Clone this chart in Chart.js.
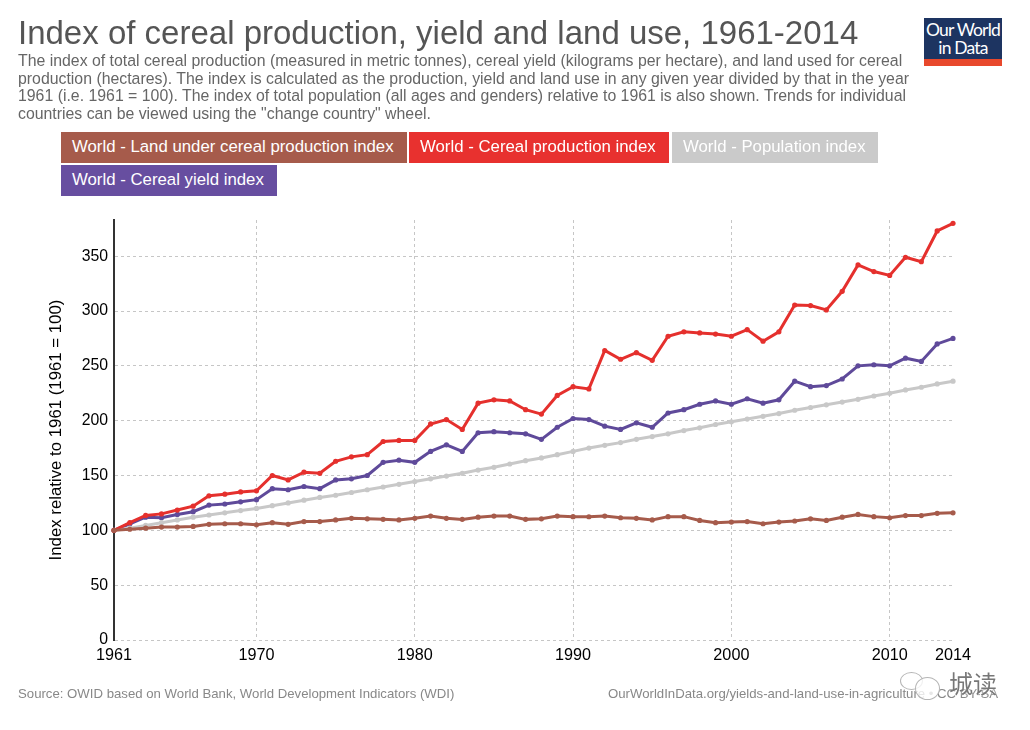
<!DOCTYPE html>
<html>
<head>
<meta charset="utf-8">
<title>Index of cereal production, yield and land use, 1961-2014</title>
<script src="https://cdn.jsdelivr.net/npm/chart.js@4"></script>
<style>
html, body { margin: 0; padding: 0; background: #fff; }
body { width: 1030px; height: 730px; position: relative; overflow: hidden; font-family: "Liberation Sans", Arial, sans-serif; }
#chartWrap { position: absolute; left: 0; top: 0; width: 1030px; height: 730px; }
.title { position: absolute; left: 18px; top: 14px; font-size: 33px; color: #555; white-space: nowrap; }
.sub { position: absolute; left: 18px; top: 52px; font-size: 15.85px; line-height: 17.7px; color: #666; white-space: nowrap; }
.key { position: absolute; height: 31px; line-height: 29px; color: #fff; font-size: 16.8px; padding-left: 11px; box-sizing: border-box; white-space: nowrap; }
.logo { position: absolute; left: 924px; top: 18px; width: 78px; height: 48px; background: #1d3461; border-bottom: 7px solid #e8482c; box-sizing: border-box; color: #fff; text-align: center; font-family: Lato, sans-serif; font-size: 17.5px; line-height: 18px; padding-top: 3px; letter-spacing: -0.8px; }
.foot { position: absolute; top: 686px; font-size: 13.2px; color: #888; white-space: nowrap; }
.mark { position: absolute; left: 949px; top: 665px; font-family: "Noto Sans CJK SC", sans-serif; font-size: 24px; line-height: 36px; color: #777; white-space: nowrap; text-shadow: 0 0 3px #fff; }
.bubble { position: absolute; border: 1px solid #b5b5b5; border-radius: 50%; background: rgba(255,255,255,.8); box-sizing: border-box; }
</style>
</head>
<body>
<div id="chartWrap"><canvas id="cerealChart" width="1030" height="730"></canvas></div>
<div class="title">Index of cereal production, yield and land use, 1961-2014</div>
<div class="sub">The index of total cereal production (measured in metric tonnes), cereal yield (kilograms per hectare), and land used for cereal<br>production (hectares). The index is calculated as the production, yield and land use in any given year divided by that in the year<br>1961 (i.e. 1961 = 100). The index of total population (all ages and genders) relative to 1961 is also shown. Trends for individual<br>countries can be viewed using the "change country" wheel.</div>
<div class="logo">Our World<br>in Data</div>
<div class="key" style="left:61px;top:132px;width:346px;background:#a65b4b">World - Land under cereal production index</div>
<div class="key" style="left:409px;top:132px;width:260px;background:#e8312f">World - Cereal production index</div>
<div class="key" style="left:672px;top:132px;width:206px;background:#cacaca">World - Population index</div>
<div class="key" style="left:61px;top:165px;width:216px;background:#674ea0">World - Cereal yield index</div>
<div class="foot" style="left:18px">Source: OWID based on World Bank, World Development Indicators (WDI)</div>
<div class="foot" style="left:608px">OurWorldInData.org/yields-and-land-use-in-agriculture • CC BY-SA</div>
<div class="bubble" style="left:900px;top:672px;width:23px;height:18px"></div>
<div class="bubble" style="left:915px;top:677px;width:25px;height:23px"></div>
<div class="mark">城读</div>
<script>
var years = [];
for (var yr = 1961; yr <= 2014; yr++) years.push(yr);

var landIndex = [100, 101, 102, 103, 103, 103.6, 105.5, 106, 106, 105,
    107, 105.5, 108, 108, 109.5, 111, 110.5, 110, 109.5, 111,
    113, 111, 110, 112, 113, 113, 110, 110.5, 113, 112.5,
    112.4, 113, 111.5, 111, 109.5, 112.5, 112.5, 109, 107, 107.5,
    108, 106, 107.5, 108.5, 110.5, 109, 112, 114.5, 112.5, 111.5,
    113.5, 113.5, 115.5, 116];
var productionIndex = [100, 107, 113.6, 115, 118.5, 122, 131.5, 133, 135, 136,
    150, 146, 153, 152, 163, 167, 169, 181, 182, 182,
    197, 201, 192, 216, 219, 218, 210, 206, 223, 231,
    229, 264, 256, 262, 255, 277, 281, 280, 279, 277,
    283, 272.5, 281, 305.5, 305, 301, 318, 342, 336, 332.5,
    349, 345, 373, 380];
var populationIndex = [100, 102, 104.5, 107, 109.5, 112, 114, 116, 118, 120,
    122.5, 125, 127.5, 130, 132, 134.5, 137, 139.5, 142, 144.5,
    147, 149.5, 152, 155, 157.5, 160.5, 163.5, 166, 169, 172,
    175, 177.5, 180, 183, 185.5, 188, 191, 193.5, 196.5, 199,
    201.5, 204, 206.5, 209.5, 212, 214.5, 217, 219.5, 222.5, 225,
    228, 230.5, 233.5, 236];
var yieldIndex = [100, 106, 112, 111.5, 114.5, 117, 123, 124, 126, 128,
    138, 137, 140, 138, 146, 147, 150, 162, 164, 162,
    172, 178, 172, 189, 190, 189, 188, 183, 194, 202,
    201, 195, 192, 198, 194, 207, 210, 215, 218, 215,
    220, 216, 219, 236, 231, 232, 238, 250, 251, 250,
    257, 254, 270, 275];

var xTicks = [1961, 1970, 1980, 1990, 2000, 2010, 2014];
var yTicks = [0, 50, 100, 150, 200, 250, 300, 350];

function series(label, values, color) {
    return {
        label: label,
        data: values.map(function (v, i) { return { x: years[i], y: v }; }),
        borderColor: color,
        backgroundColor: color,
        borderWidth: 3,
        pointRadius: 2.6,
        pointBorderWidth: 0,
        tension: 0,
        clip: false
    };
}

function asTicks(list) {
    return list.map(function (v) { return { value: v }; });
}

new Chart(document.getElementById("cerealChart"), {
    type: "line",
    data: {
        datasets: [
            series("World - Land under cereal production index", landIndex, "#a65b4b"),
            series("World - Cereal production index", productionIndex, "#e5302d"),
            series("World - Population index", populationIndex, "#c8c8c8"),
            series("World - Cereal yield index", yieldIndex, "#5f4a9a")
        ]
    },
    options: {
        responsive: false,
        animation: false,
        layout: { padding: { left: 45, right: 77, top: 220, bottom: 0 } },
        plugins: {
            legend: { display: false },
            tooltip: { enabled: false }
        },
        scales: {
            x: {
                type: "linear",
                min: 1961,
                max: 2014,
                afterBuildTicks: function (axis) { axis.ticks = asTicks(xTicks); },
                afterFit: function (axis) { axis.height = 90; },
                border: { display: false, dash: [3, 3] },
                grid: {
                    drawTicks: false,
                    color: function (ctx) {
                        return ctx.tick && ctx.tick.value === 2014 ? "rgba(0,0,0,0)" : "#c6c6c6";
                    }
                },
                ticks: {
                    autoSkip: false,
                    maxRotation: 0,
                    padding: 6,
                    color: "#000",
                    font: { family: "Liberation Sans", size: 16.2 },
                    callback: function (v) { return String(v); }
                }
            },
            y: {
                min: 0,
                max: 383,
                afterBuildTicks: function (axis) { axis.ticks = asTicks(yTicks); },
                afterFit: function (axis) { axis.width = 69; },
                border: { color: "#333", width: 2, dash: [3, 3] },
                grid: { drawTicks: false, color: "#c6c6c6" },
                title: {
                    display: true,
                    text: "Index relative to 1961 (1961 = 100)",
                    color: "#000",
                    padding: { top: 1, bottom: 0 },
                    font: { family: "Liberation Sans", size: 16.8 }
                },
                ticks: {
                    padding: 6,
                    color: "#000",
                    font: { family: "Liberation Sans", size: 15.8 }
                }
            }
        }
    }
});
</script>
</body>
</html>
